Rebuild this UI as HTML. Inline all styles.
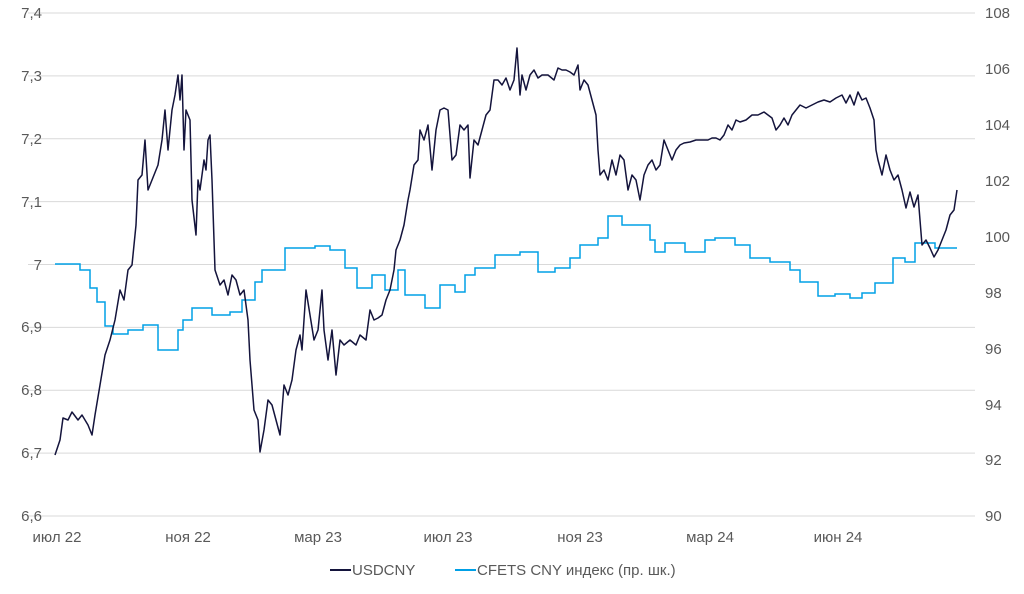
<!DOCTYPE html>
<html><head><meta charset="utf-8"><style>
body{margin:0;background:#fff;}
svg text{font-family:"Liberation Sans","Noto Sans CJK SC",sans-serif;font-size:15px;fill:#595959;}
</style></head><body>
<svg width="1024" height="589" xmlns="http://www.w3.org/2000/svg">
<g stroke="#d9d9d9" stroke-width="1">
<line x1="28" x2="975" y1="13" y2="13"/><line x1="28" x2="975" y1="75.9" y2="75.9"/>
<line x1="28" x2="975" y1="138.75" y2="138.75"/><line x1="28" x2="975" y1="201.6" y2="201.6"/>
<line x1="28" x2="975" y1="264.5" y2="264.5"/><line x1="28" x2="975" y1="327.4" y2="327.4"/>
<line x1="28" x2="975" y1="390.25" y2="390.25"/><line x1="28" x2="975" y1="453.1" y2="453.1"/>
<line x1="28" x2="975" y1="516" y2="516"/>
</g>
<g text-anchor="end">
<text x="42" y="18">7,4</text><text x="42" y="81">7,3</text><text x="42" y="144">7,2</text>
<text x="42" y="207">7,1</text><text x="42" y="270">7</text><text x="42" y="332">6,9</text>
<text x="42" y="395">6,8</text><text x="42" y="458">6,7</text><text x="42" y="521">6,6</text>
</g>
<g text-anchor="start">
<text x="985" y="18">108</text><text x="985" y="74">106</text><text x="985" y="130">104</text>
<text x="985" y="186">102</text><text x="985" y="242">100</text><text x="985" y="298">98</text>
<text x="985" y="354">96</text><text x="985" y="410">94</text><text x="985" y="465">92</text>
<text x="985" y="521">90</text>
</g>
<g text-anchor="middle">
<text x="57" y="542">июл 22</text><text x="188" y="542">ноя 22</text><text x="318" y="542">мар 23</text>
<text x="448" y="542">июл 23</text><text x="580" y="542">ноя 23</text><text x="710" y="542">мар 24</text>
<text x="838" y="542">июн 24</text>
</g>
<polyline fill="none" stroke="#00a0e6" stroke-width="1.5" points="55,264 80,264 80,270 90,270 90,288 97,288 97,302 105,302 105,326 113,326 113,334 128,334 128,330 143,330 143,325 158,325 158,350 178,350 178,330 183,330 183,320 192,320 192,308 212,308 212,315 230,315 230,312 242,312 242,300 255,300 255,282 262,282 262,270 285,270 285,248 315,248 315,246 330,246 330,250 345,250 345,268 357,268 357,288 372,288 372,275 385,275 385,290 398,290 398,270 405,270 405,295 425,295 425,308 440,308 440,285 455,285 455,292 465,292 465,275 475,275 475,268 495,268 495,255 520,255 520,252 538,252 538,272 555,272 555,268 570,268 570,258 580,258 580,245 598,245 598,238 608,238 608,216 622,216 622,225 650,225 650,240 655,240 655,252 665,252 665,243 685,243 685,252 705,252 705,240 715,240 715,238 735,238 735,245 750,245 750,258 770,258 770,262 790,262 790,270 800,270 800,282 818,282 818,296 835,296 835,294 850,294 850,298 862,298 862,293 875,293 875,283 893,283 893,258 905,258 905,262 915,262 915,243 935,243 935,248 957,248"/>
<polyline fill="none" stroke="#14143c" stroke-width="1.5" stroke-linejoin="round" points="55,455 60,440 63,418 68,420 72,412 78,420 82,415 88,425 92,435 95,415 100,385 105,355 110,340 115,320 120,290 124,300 128,270 132,265 136,225 138,180 142,175 145,140 148,190 152,180 158,165 162,140 165,110 168,150 172,110 175,95 178,75 180,100 182,75 184,150 186,110 190,120 192,200 196,235 198,180 200,190 204,160 206,170 208,140 210,135 212,180 215,270 220,285 224,280 228,295 232,275 236,280 240,295 244,290 248,320 250,360 254,410 258,420 260,452 264,430 268,400 272,405 276,420 280,435 284,385 288,395 292,380 296,350 300,335 302,350 306,290 310,315 314,340 318,330 322,290 324,330 328,360 332,330 336,375 340,340 344,345 350,340 356,345 360,335 366,340 370,310 374,320 378,318 382,315 386,300 390,290 394,270 396,250 400,240 404,225 408,200 410,190 414,165 418,160 420,130 424,140 428,125 432,170 436,130 440,110 444,108 448,110 452,160 456,155 460,125 464,130 468,125 470,178 474,140 478,145 482,130 486,115 490,110 494,80 498,80 502,85 506,78 510,90 514,80 517,48 520,95 522,75 526,90 530,75 534,70 538,78 542,75 548,75 554,80 558,68 562,70 566,70 570,72 574,75 578,65 580,90 584,80 588,85 592,100 596,115 598,150 600,175 604,170 608,180 612,160 616,175 620,155 624,160 628,190 632,175 636,180 640,200 644,175 648,165 652,160 656,170 660,165 664,140 668,150 672,160 676,150 680,145 684,143 690,142 696,140 702,140 708,140 712,138 716,138 720,140 724,135 728,125 732,130 736,120 740,122 746,120 752,115 758,115 764,112 768,115 772,118 776,130 780,125 784,118 788,125 792,115 796,110 800,105 806,108 812,105 818,102 824,100 830,102 836,98 842,95 846,103 850,95 854,105 858,92 862,100 866,98 870,108 874,120 876,150 878,160 882,175 886,155 890,170 894,180 898,175 902,190 906,208 910,192 914,207 918,195 922,245 926,240 930,248 934,257 938,250 942,240 946,230 950,215 954,210 957,190"/>
<line x1="330" x2="351" y1="570" y2="570" stroke="#14143c" stroke-width="2"/>
<text x="352" y="575">USDCNY</text>
<line x1="455" x2="476" y1="570" y2="570" stroke="#00a0e6" stroke-width="2"/>
<text x="477" y="575">CFETS CNY индекс (пр. шк.)</text>
</svg>
</body></html>
